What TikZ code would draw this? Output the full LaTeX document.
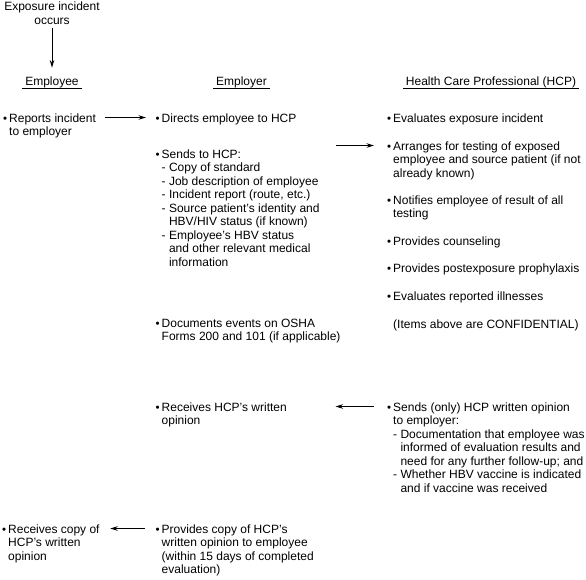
\documentclass[tikz,border=0pt]{standalone}
\usepackage{fontspec}
\setmainfont{Liberation Sans}
\usetikzlibrary{calc,arrows.meta}
\newcommand{\bul}{\strut\makebox[6pt][l]{\raisebox{0.2pt}{\fontsize{11.5}{11.5}\selectfont\textbullet}}}
\newcommand{\ind}{\hspace*{6pt}}
\newcommand{\subind}{\hspace*{6pt}\hphantom{-\ }}
\begin{document}
\begin{tikzpicture}[x=1pt,y=-1pt,
  txt/.style={font=\fontsize{12}{13.5}\selectfont, inner sep=0pt, align=left, anchor=north west, yshift=9.45pt},
  hdr/.style={font=\fontsize{12}{13.5}\selectfont, inner ysep=0pt, inner xsep=3pt, anchor=base},
  arr/.style={line width=0.75pt, -{Stealth[length=7.5pt,width=4.5pt]}},
  uline/.style={line width=0.75pt}]
\useasboundingbox (0,0) rectangle (586,579);

% top
\node[txt, align=center, anchor=north] (exp) at (52,10.5) {\strut Exposure incident\\occurs};

% headers
\node[hdr] (hemp) at (52,85.5) {Employee};
\node[hdr] (hemr) at (241.5,85.5) {Employer};
\node[hdr] (hhcp) at (491,85.5) {Health Care Professional (HCP)};
\foreach \h in {hemp,hemr,hhcp}
  \draw[uline] ([yshift=-3pt]\h.base west) -- ([yshift=-3pt]\h.base east);

\draw[arr, shorten <=3pt, shorten >=9pt] (exp.south) -- (hemp.north);

% employee column
\node[txt] (rep) at (3,122) {\bul Reports incident\\\ind to employer};
\node[txt] (recv) at (2,533) {\bul Receives copy of\\\ind HCP's written\\\ind opinion};

% employer column
\node[txt] (dir) at (155.5,122) {\bul Directs employee to HCP};
\node[txt] (sends) at (155.5,158) {\bul Sends to HCP:\\
\ind- Copy of standard\\
\ind- Job description of employee\\
\ind- Incident report (route, etc.)\\
\ind- Source patient's identity and\\
\subind HBV/HIV status (if known)\\
\ind- Employee's HBV status\\
\subind and other relevant medical\\
\subind information};
\node[txt] (docs) at (155.5,327) {\bul Documents events on OSHA\\\ind Forms 200 and 101 (if applicable)};
\node[txt] (rcvop) at (155.5,411) {\bul Receives HCP's written\\\ind opinion};
\node[txt] (prov) at (155.5,533) {\bul Provides copy of HCP's\\\ind written opinion to employee\\\ind (within 15 days of completed\\\ind evaluation)};

% HCP column
\node[txt] (eval) at (387,122) {\bul Evaluates exposure incident};
\node[txt] (arr) at (387,150) {\bul Arranges for testing of exposed\\\ind employee and source patient (if not\\\ind already known)};
\node[txt] (notif) at (387,204) {\bul Notifies employee of result of all\\\ind testing};
\node[txt] (couns) at (387,245) {\bul Provides counseling};
\node[txt] (proph) at (387,272) {\bul Provides postexposure prophylaxis};
\node[txt] (ill) at (387,300) {\bul Evaluates reported illnesses};
\node[txt] (conf) at (393,328) {\strut(Items above are CONFIDENTIAL)};
\node[txt] (sendop) at (387,411) {\bul Sends (only) HCP written opinion\\
\ind to employer:\\
\ind- Documentation that employee was\\
\subind informed of evaluation results and\\
\subind need for any further follow-up; and\\
\ind- Whether HBV vaccine is indicated\\
\subind and if vaccine was received};

% connectors
\draw[arr] ($(rep.north east)+(8.5pt,-4.95pt)$) -- ($(dir.north west)+(-9.5pt,-4.95pt)$);
\draw[arr] ($(sends.east |- arr.north)+(16pt,-4.95pt)$) -- ($(arr.north west)+(-13pt,-4.95pt)$);
\draw[arr] ($(sendop.north west)+(-13pt,-4.95pt)$) -- ($(rcvop.north east)+(48.5pt,-4.95pt)$);
\draw[arr] ($(prov.north west)+(-10.5pt,-4.95pt)$) -- ($(recv.north east)+(10.5pt,-4.95pt)$);
\end{tikzpicture}
\end{document}
